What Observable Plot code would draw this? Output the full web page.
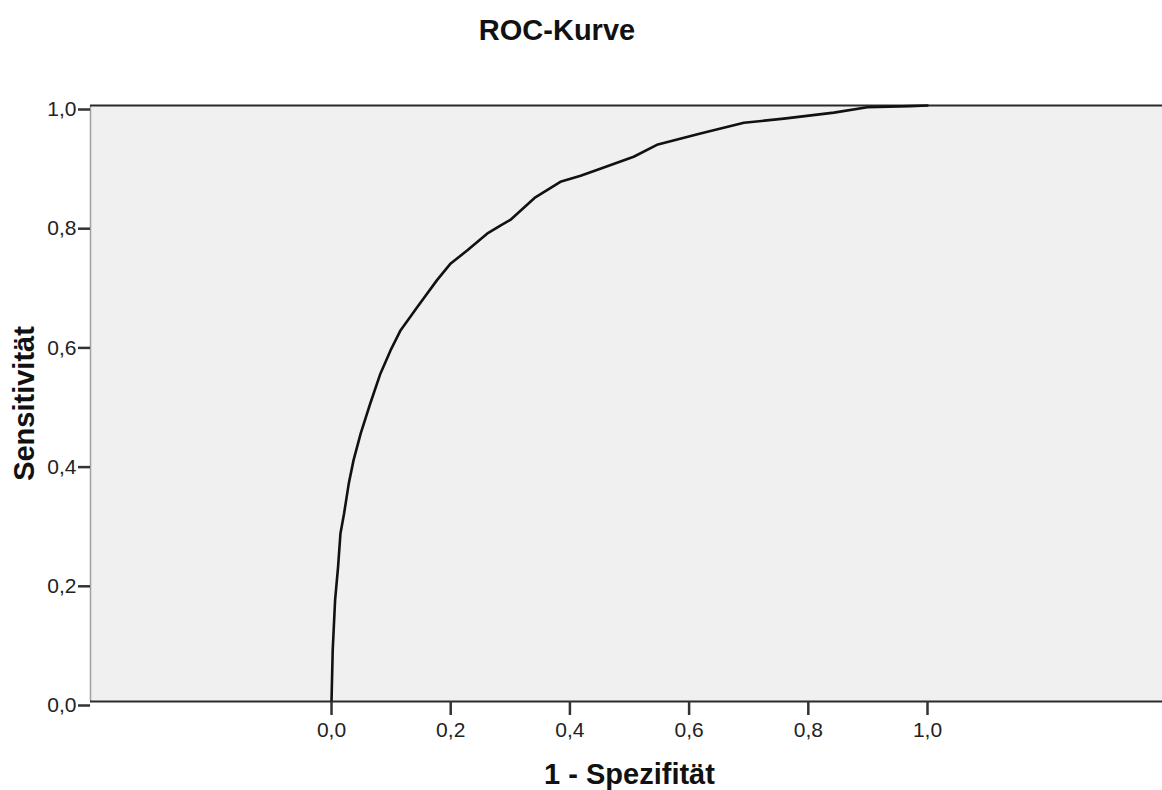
<!DOCTYPE html>
<html>
<head>
<meta charset="utf-8">
<script src="https://cdn.jsdelivr.net/npm/d3@7"></script>
<script src="https://cdn.jsdelivr.net/npm/@observablehq/plot@0.6"></script>
<style>
  html, body { margin: 0; padding: 0; background: #fff; }
  body { width: 1162px; height: 790px; overflow: hidden; font-family: "Liberation Sans", Arial, sans-serif; }
  #title { position: relative; height: 60px; }
  #title span { position: absolute; left: 557px; top: 16px; transform: translateX(-50%);
    font: bold 29px/29px "Liberation Sans", Arial, sans-serif; color: #111; white-space: nowrap; }
  svg { display: block; overflow: visible; }
</style>
</head>
<body>
<div id="title"><span>ROC-Kurve</span></div>
<div id="chart"></div>
<script>
// Data (ROC curve)
const fpr = [0, 0.002, 0.006, 0.011, 0.015, 0.021, 0.029, 0.037, 0.049, 0.065, 0.082, 0.099, 0.116, 0.144, 0.177, 0.2, 0.228, 0.261, 0.284, 0.3, 0.342, 0.384, 0.418, 0.451, 0.507, 0.546, 0.619, 0.692, 0.759, 0.843, 0.899, 0.971, 1.0];
const tpr = [0, 0.086, 0.17, 0.226, 0.282, 0.315, 0.366, 0.405, 0.45, 0.5, 0.55, 0.589, 0.623, 0.662, 0.707, 0.735, 0.757, 0.785, 0.799, 0.808, 0.846, 0.872, 0.882, 0.894, 0.914, 0.934, 0.953, 0.971, 0.978, 0.988, 0.997, 0.999, 1.0];
const xTicks = [0, 0.2, 0.4, 0.6, 0.8, 1.0];
const yTicks = [0, 0.2, 0.4, 0.6, 0.8, 1.0];
const xLabel = "1 - Spezifität";
const yLabel = "Sensitivität";
const xDomain = [-0.4044, 1.3943];

const roc = fpr.map((x, i) => ({x, y: tpr[i]}));
const fmt = d => d.toFixed(1).replace(".", ",");

const chart = Plot.plot({
  width: 1162,
  height: 730,
  marginLeft: 90,
  marginRight: 0,
  marginTop: 45,
  marginBottom: 89,
  style: {fontFamily: "'Liberation Sans', Arial, sans-serif", background: "transparent", overflow: "visible"},
  x: {domain: xDomain},
  y: {domain: [0, 1]},
  marks: [
    Plot.frame({fill: "#f0f0f0", stroke: "none"}),
    Plot.ruleX([xDomain[0]], {stroke: "#a0a0a0", strokeWidth: 1.5}),
    Plot.ruleY([0, 1], {stroke: "#2a2a2a", strokeWidth: 2}),
    Plot.line(roc, {x: "x", y: "y", stroke: "#111", strokeWidth: 2.6, curve: "linear"}),
    Plot.axisX(xTicks, {tickSize: 14, tickPadding: 7, tickFormat: fmt, fontSize: 21, stroke: "#333", strokeWidth: 2.5, fill: "#222", label: null}),
    Plot.axisY(yTicks, {tickSize: 12, tickPadding: 2, tickFormat: fmt, fontSize: 21, stroke: "#333", strokeWidth: 2.5, fill: "#222", dy: 4, label: null}),
    Plot.text([xLabel], {x: 0.5, frameAnchor: "bottom", text: d => d, dy: 82, lineAnchor: "bottom", textAnchor: "middle", fontSize: 29, fontWeight: "bold", fill: "#111"}),
    Plot.text([yLabel], {y: 0.5, frameAnchor: "left", text: d => d, dx: -57, rotate: -90, lineAnchor: "bottom", textAnchor: "middle", fontSize: 29, fontWeight: "bold", fill: "#111"})
  ]
});
document.getElementById("chart").appendChild(chart);
</script>
</body>
</html>
